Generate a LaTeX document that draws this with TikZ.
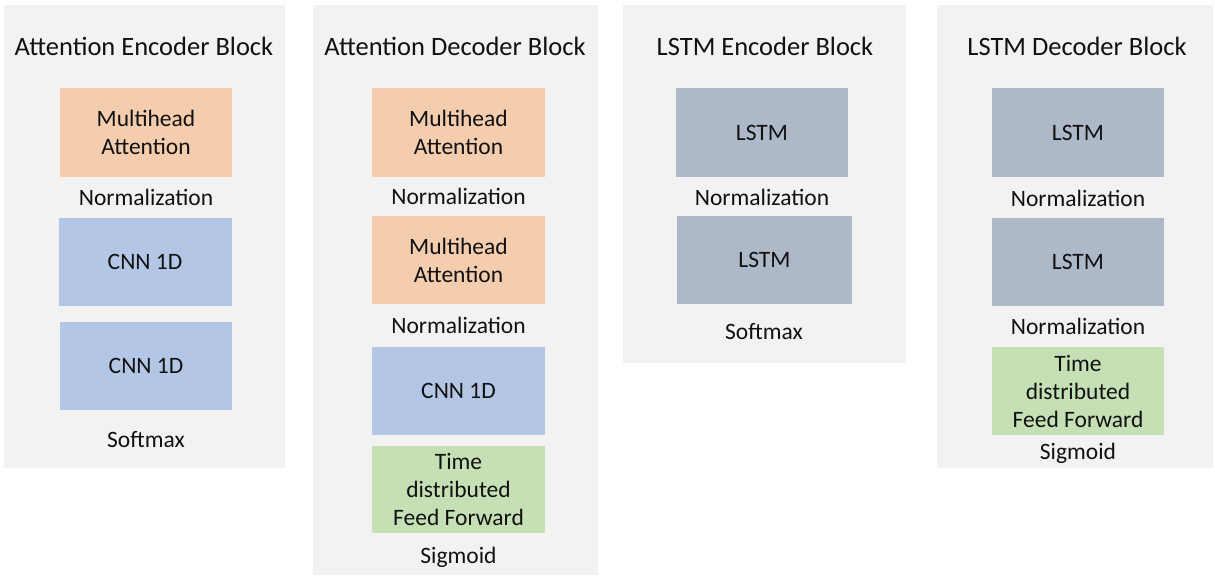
\documentclass[tikz,border=0pt]{standalone}
\usepackage{fontspec}
\setmainfont{Carlito}
\definecolor{panelbg}{HTML}{F2F2F2}
\definecolor{peach}{HTML}{F4CCAE}
\definecolor{cnnblue}{HTML}{B4C6E6}
\definecolor{lstmgray}{HTML}{ADB8C9}
\definecolor{ffgreen}{HTML}{C6E0B5}
\definecolor{txt}{HTML}{111111}
\begin{document}
\begin{tikzpicture}[x=1pt,y=-1pt,
  panel/.style={fill=panelbg,draw=none},
  blk/.style={draw=none,inner sep=0pt,align=center,text=txt,
    font=\fontsize{23.5}{28}\selectfont},
  lbl/.style={anchor=base,inner sep=0pt,text=txt,font=\fontsize{23.5}{28}\selectfont},
  ttl/.style={anchor=base,inner sep=0pt,text=txt,font=\fontsize{26.5}{30}\selectfont}]
\useasboundingbox (0,0) rectangle (1215,576);
% panels
\fill[panel] (4,5) rectangle (285,468);
\fill[panel] (313,5) rectangle (598,575);
\fill[panel] (623,5) rectangle (906,363);
\fill[panel] (937,5) rectangle (1213,468);
% ---- Panel 1
\node[ttl] (t1) at (144,55) {Attention Encoder Block};
\node[blk,fill=peach,minimum width=172pt,minimum height=89pt] (a1) at (146,132.5) {Multihead\\Attention};
\node[lbl] (a1n) at (146,205) {Normalization};
\node[blk,fill=cnnblue,minimum width=173pt,minimum height=88pt] (a2) at (145,262) {CNN 1D};
\node[blk,fill=cnnblue,minimum width=172pt,minimum height=88pt] (a3) at (146,366) {CNN 1D};
\node[lbl] (a3n) at (146,447) {Softmax};
% ---- Panel 2
\node[ttl] (t2) at (455,55) {Attention Decoder Block};
\node[blk,fill=peach,minimum width=173pt,minimum height=89pt] (b1) at (458.5,132.5) {Multihead\\Attention};
\node[lbl] (b1n) at (458.5,204) {Normalization};
\node[blk,fill=peach,minimum width=173pt,minimum height=88pt] (b2) at (458.5,260) {Multihead\\Attention};
\node[lbl] (b2n) at (458.5,333) {Normalization};
\node[blk,fill=cnnblue,minimum width=173pt,minimum height=88pt] (b3) at (458.5,391) {CNN 1D};
\node[blk,fill=ffgreen,minimum width=173pt,minimum height=87pt] (b4) at (458.5,489.5) {Time\\distributed\\Feed Forward};
\node[lbl] (b4n) at (458.5,563) {Sigmoid};
% ---- Panel 3
\node[ttl] (t3) at (765,55) {LSTM Encoder Block};
\node[blk,fill=lstmgray,minimum width=172pt,minimum height=89pt] (c1) at (762,132.5) {LSTM};
\node[lbl] (c1n) at (762,205) {Normalization};
\node[blk,fill=lstmgray,minimum width=175pt,minimum height=88pt] (c2) at (764.5,260) {LSTM};
\node[lbl] (c2n) at (764,339) {Softmax};
% ---- Panel 4
\node[ttl] (t4) at (1077,55) {LSTM Decoder Block};
\node[blk,fill=lstmgray,minimum width=172pt,minimum height=89pt] (d1) at (1078,132.5) {LSTM};
\node[lbl] (d1n) at (1078,206) {Normalization};
\node[blk,fill=lstmgray,minimum width=172pt,minimum height=88pt] (d2) at (1078,262) {LSTM};
\node[lbl] (d2n) at (1078,334) {Normalization};
\node[blk,fill=ffgreen,minimum width=172pt,minimum height=88pt] (d3) at (1078,391) {Time\\distributed\\Feed Forward};
\node[lbl] (d3n) at (1078,459) {Sigmoid};
\end{tikzpicture}
\end{document}
